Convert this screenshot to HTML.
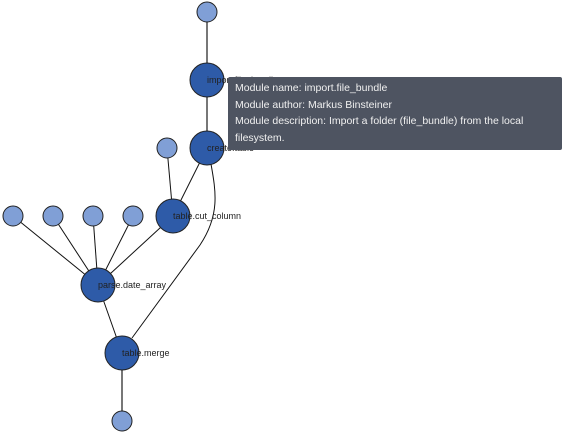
<!DOCTYPE html>
<html><head><style>
body{margin:0;width:568px;height:436px;background:#fff;overflow:hidden;position:relative;font-family:"Liberation Sans",sans-serif}
.tip{position:absolute;left:228px;top:77px;width:334px;height:73px;background:#4e5461;border-radius:2px;color:#f0f0f0;font-size:10.5px;line-height:16.5px;padding:3px 7px;box-sizing:border-box}
</style></head><body>
<svg width="568" height="436" style="position:absolute;left:0;top:0">
<g stroke="#777" stroke-width="2">
<line x1="207" y1="12" x2="207" y2="80"/>
<line x1="207" y1="80" x2="207" y2="148"/>
<line x1="122" y1="353" x2="122" y2="421"/>
</g>
<g stroke="#111" stroke-width="1" fill="none">
<line x1="167" y1="148" x2="173" y2="216"/>
<line x1="207" y1="148" x2="173" y2="216"/>
<line x1="13" y1="216" x2="98" y2="285"/>
<line x1="53" y1="216" x2="98" y2="285"/>
<line x1="93" y1="216" x2="98" y2="285"/>
<line x1="133" y1="216" x2="98" y2="285"/>
<line x1="173" y1="216" x2="98" y2="285"/>
<line x1="98" y1="285" x2="122" y2="353"/>
<path d="M211,164 C216,192 220,215 200,245 L132,338"/>
</g>
<g stroke="#222" stroke-width="1">
<g fill="#809fd6">
<circle cx="207" cy="12" r="10"/><circle cx="167" cy="148" r="10"/>
<circle cx="13" cy="216" r="10"/><circle cx="53" cy="216" r="10"/><circle cx="93" cy="216" r="10"/><circle cx="133" cy="216" r="10"/>
<circle cx="122" cy="421" r="10"/>
</g>
<g fill="#2e5ba8">
<circle cx="207" cy="80" r="17"/><circle cx="207" cy="148" r="17"/><circle cx="173" cy="216" r="17"/>
<circle cx="98" cy="285" r="17"/><circle cx="122" cy="353" r="17"/>
</g>
</g>
<g font-size="9" fill="#222" font-family="Liberation Sans,sans-serif">
<text x="207" y="83">import.file_bundle</text>
<text x="207" y="151">create.table</text>
<text x="173" y="219">table.cut_column</text>
<text x="98" y="288">parse.date_array</text>
<text x="122" y="356">table.merge</text>
</g>
</svg>
<div class="tip">Module name: import.file_bundle<br>Module author: Markus Binsteiner<br>Module description: Import a folder (file_bundle) from the local filesystem.</div>
</body></html>
